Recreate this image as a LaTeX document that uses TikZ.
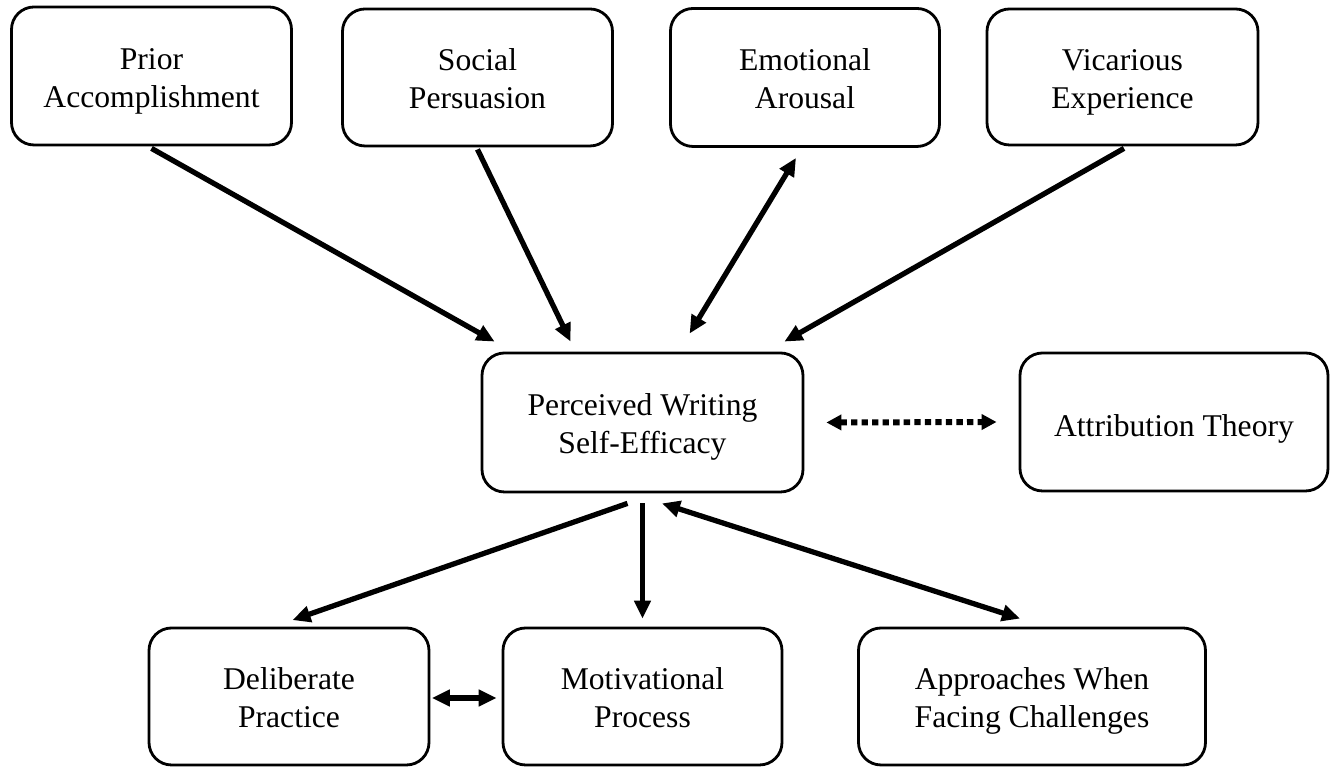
\documentclass[tikz,border=0pt]{standalone}
\usepackage{fontspec}
\setmainfont{Liberation Serif}
\usepackage{tikz}
\usetikzlibrary{arrows.meta,positioning}
\usepackage{xcolor}

\begin{document}
\begin{tikzpicture}[
    box/.style={draw, line width=1.6pt, rounded corners=0.45cm, align=center,
        inner sep=0pt, text height=1.40cm, text depth=0.15cm, font=\fontsize{18}{21.6}\selectfont},
    onebox/.style={box, text height=0.73cm},
    link/.style={-{Triangle[length=0.36cm, width=0.32cm]}, line width=3pt},
    dlink/.style={{Triangle[length=0.36cm, width=0.32cm]}-{Triangle[length=0.36cm, width=0.32cm]}, line width=3pt},
    dotlink/.style={{Triangle[length=0.3cm, width=0.3cm]}-{Triangle[length=0.3cm, width=0.3cm]}, line width=3.4pt, dash pattern=on 3.6pt off 2.4pt},
]
\useasboundingbox (0, 0) rectangle (26.6, 15.34);

% sources of self-efficacy
\node[box, minimum width=5.6cm, minimum height=2.76cm] (prior) at (3.03, 13.82) {Prior\\Accomplishment};
\node[box, minimum width=5.4cm, minimum height=2.74cm] (social) at (9.55, 13.79) {Social\\Persuasion};
\node[box, minimum width=5.38cm, minimum height=2.76cm] (emot) at (16.10, 13.79) {Emotional\\Arousal};
\node[box, minimum width=5.42cm, minimum height=2.72cm] (vicar) at (22.45, 13.80) {Vicarious\\Experience};

% centre and side theory
\node[box, minimum width=6.42cm, minimum height=2.78cm] (pwse) at (12.85, 6.89) {Perceived Writing\\Self-Efficacy};
\node[onebox, minimum width=6.16cm, minimum height=2.76cm] (attr) at (23.48, 6.90) {Attribution Theory};

% outcomes
\node[box, minimum width=5.6cm, minimum height=2.74cm] (delib) at (5.78, 1.41) {Deliberate\\Practice};
\node[box, minimum width=5.58cm, minimum height=2.74cm] (motiv) at (12.85, 1.41) {Motivational\\Process};
\node[box, minimum width=6.94cm, minimum height=2.74cm] (appr) at (20.64, 1.41) {Approaches When\\Facing Challenges};

\draw[link] ([yshift=-0.04cm]prior.south) -- ([shift={(0.28, 0.2)}]pwse.north west);
\draw[link] ([yshift=-0.04cm]social.south) -- ([shift={(1.8, 0.2)}]pwse.north west);
\draw[dlink] ([shift={(4.18, 0.36)}]pwse.north west) -- ([shift={(-0.18, -0.2)}]emot.south);
\draw[link] ([shift={(0.03, -0.04)}]vicar.south) -- ([shift={(-0.4, 0.2)}]pwse.north east);
\draw[dotlink] ([xshift=0.44cm]pwse.east) -- ([xshift=-0.44cm]attr.west);

\draw[link] ([shift={(-0.3, -0.2)}]pwse.south) -- ([shift={(0.07, 0.13)}]delib.north);
\draw[link] ([yshift=-0.2cm]pwse.south) -- ([yshift=0.16cm]motiv.north);
\draw[dlink] ([shift={(0.39, -0.2)}]pwse.south) -- ([shift={(-0.24, 0.16)}]appr.north);
\draw[dlink] ([shift={(0.03, -0.03)}]delib.east) -- ([shift={(-0.1, -0.03)}]motiv.west);

\end{tikzpicture}
\end{document}
